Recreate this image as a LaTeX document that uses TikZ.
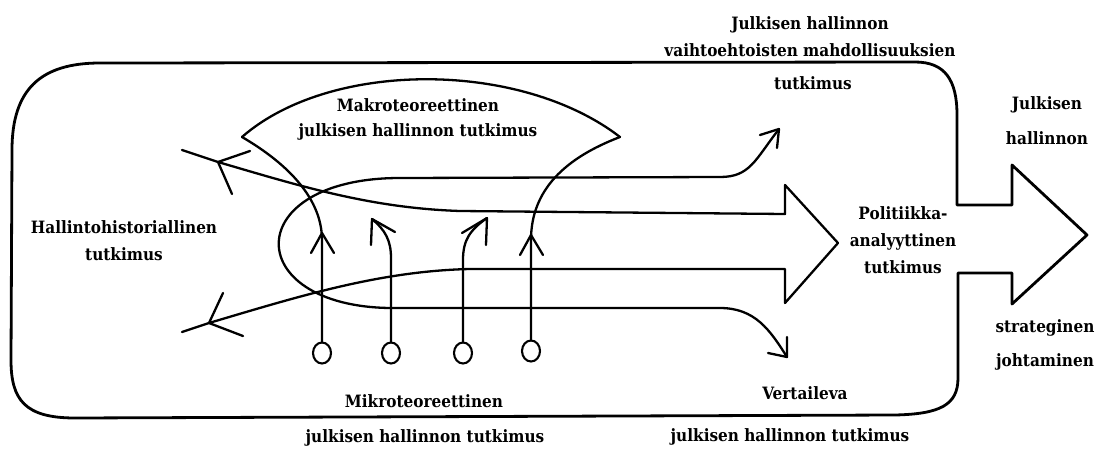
\documentclass[tikz,border=0pt]{standalone}
\usepackage{fontspec}
\newfontfamily\lblfont{DejaVu Serif Condensed Bold}
\usetikzlibrary{shapes.geometric}
\begin{document}
\begin{tikzpicture}[x=1pt,y=-1pt, line cap=round, line join=round,
  ln/.style={line width=2.3pt},
  box/.style={line width=2.8pt},
  mc/.style={draw, ellipse, line width=2.1pt, minimum width=18pt, minimum height=21pt, inner sep=0pt},
  lbl/.style={font=\lblfont\fontsize{17}{27}\selectfont, align=center, inner sep=0pt}]
\useasboundingbox (0,0) rectangle (1104,453);
% outer frame with big arrow
\draw[box] (957,205) -- (1012,205) -- (1012,165) -- (1087,235) -- (1012,304) -- (1012,273) -- (958,273)
  -- (958,378) .. controls (958,405) and (940,414) .. (895,415) -- (75,418)
  .. controls (25,418) and (11,400) .. (11,360) -- (12,150)
  .. controls (12,90) and (40,63) .. (100,63) -- (915,62)
  .. controls (945,62) and (957,80) .. (957,115) -- cycle;
% inner big arrow with its two curved tails
\draw[ln] (182,150) -- (218,162) .. controls (300,186) and (370,208) .. (460,211) -- (785,214)
  -- (785,185) -- (838,243) -- (785,303) -- (785,269) -- (470,269)
  .. controls (380,271) and (300,296) .. (209,323) -- (182,332);
\draw[ln] (250,151) -- (218,162) -- (232,194);
\draw[ln] (223,293) -- (209,323) -- (243,336);
% loop
\draw[ln] (779,129) .. controls (755,160) and (750,177) .. (720,177) -- (400,178)
  .. controls (240,178) and (240,306) .. (390,308) -- (720,308)
  .. controls (755,308) and (770,330) .. (787,357);
\draw[ln] (760,135) -- (779,129) -- (777,148);
\draw[ln] (787,337) -- (787,357) -- (768,353);
% makro lens
\coordinate (lt) at (242,137);
\coordinate (rt) at (620,137);
\draw[ln] (lt) .. controls (330,60) and (520,60) .. (rt);
% micro circles
\node[mc] (c1) at (322,353) {};
\node[mc] (c2) at (391,353) {};
\node[mc] (c3) at (463,353) {};
\node[mc] (c4) at (531,351) {};
\draw[ln] (c1.north) -- (322,240) .. controls (322,200) and (290,165) .. (lt);
\draw[ln] (311,253) -- (322,233) -- (334,253);
\draw[ln] (c4.north) -- (531,240) .. controls (531,190) and (565,158) .. (rt);
\draw[ln] (520,255) -- (531,235) -- (543,255);
\draw[ln] (c2.north) -- (391,258) .. controls (391,240) and (385,230) .. (372,219);
\draw[ln] (395,232) -- (372,219) -- (371,245);
\draw[ln] (c3.north) -- (463,260) .. controls (463,240) and (470,230) .. (487,218);
\draw[ln] (462,233) -- (487,218) -- (486,245);
% labels
\node[lbl] (vaiht) at (810,37) {Julkisen hallinnon\\vaihtoehtoisten mahdollisuuksien};
\node[lbl] (vaiht2) at (813,83) {tutkimus};
\node[lbl] (jul1) at (1047,105) {Julkisen};
\node[lbl] (jul2) at (1047,138) {hallinnon};
\node[lbl] (pol) at (903,240) {Politiikka-\\analyyttinen\\tutkimus};
\node[lbl] (str1) at (1045,328) {strateginen};
\node[lbl] (str2) at (1045,362) {johtaminen};
\node[lbl] (vert1) at (805,393) {Vertaileva};
\node[lbl] (vert2) at (790,437) {julkisen hallinnon tutkimus};
\node[lbl] (mik1) at (424,401) {Mikroteoreettinen};
\node[lbl] (mik2) at (425,438) {julkisen hallinnon tutkimus};
\node[lbl] (hal) at (124,241) {Hallintohistoriallinen\\tutkimus};
\node[lbl, font=\lblfont\fontsize{17}{25}\selectfont] (mak) at (418,119) {Makroteoreettinen\\julkisen hallinnon tutkimus};
\end{tikzpicture}
\end{document}
